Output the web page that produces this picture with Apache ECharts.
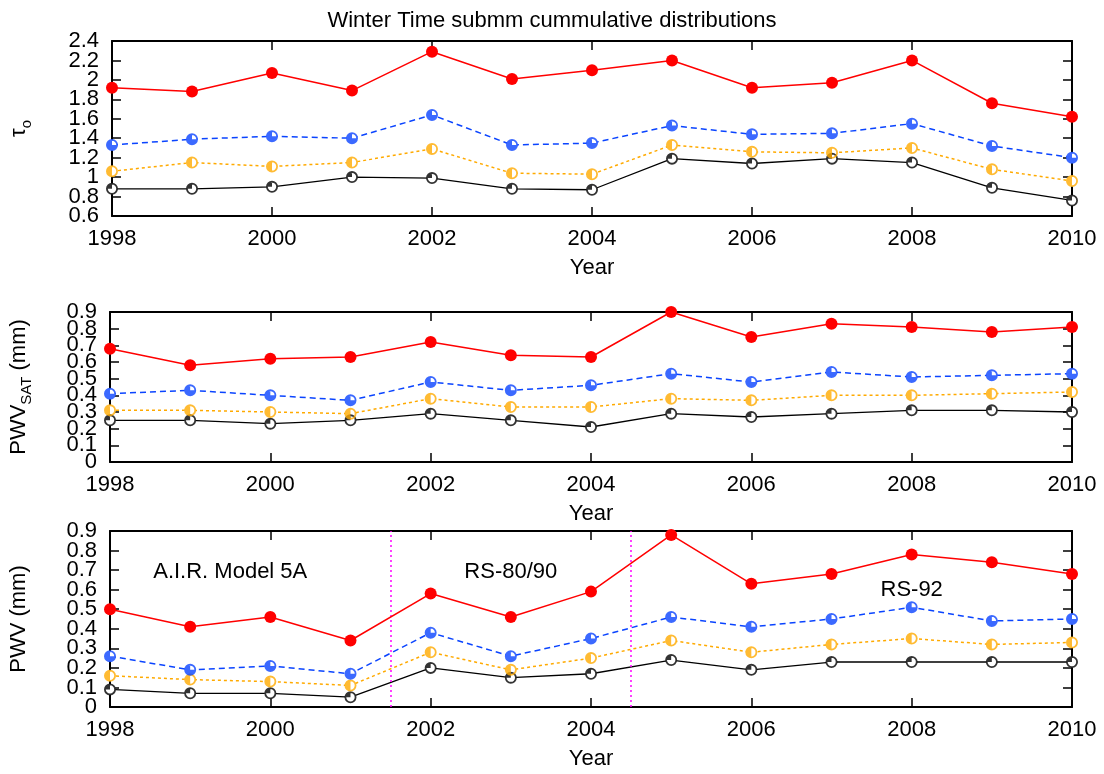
<!DOCTYPE html>
<html>
<head>
<meta charset="utf-8">
<script src="https://cdn.jsdelivr.net/npm/echarts@6/dist/echarts.min.js"></script>
<style>
html,body{margin:0;padding:0;background:#fff;}
#chart{width:1104px;height:774px;}
</style>
</head>
<body>
<div id="chart"></div>
<script>
// ---- data ----
const years = [1998,1999,2000,2001,2002,2003,2004,2005,2006,2007,2008,2009,2010];

const tauRed    = [1.92,1.88,2.07,1.89,2.29,2.01,2.10,2.20,1.92,1.97,2.20,1.76,1.62];
const tauBlue   = [1.33,1.39,1.42,1.40,1.64,1.33,1.35,1.53,1.44,1.45,1.55,1.32,1.20];
const tauOrange = [1.06,1.15,1.11,1.15,1.29,1.04,1.03,1.33,1.26,1.25,1.30,1.08,0.96];
const tauBlack  = [0.88,0.88,0.90,1.00,0.99,0.88,0.87,1.19,1.14,1.19,1.15,0.89,0.76];

const satRed    = [0.68,0.58,0.62,0.63,0.72,0.64,0.63,0.90,0.75,0.83,0.81,0.78,0.81];
const satBlue   = [0.41,0.43,0.40,0.37,0.48,0.43,0.46,0.53,0.48,0.54,0.51,0.52,0.53];
const satOrange = [0.31,0.31,0.30,0.29,0.38,0.33,0.33,0.38,0.37,0.40,0.40,0.41,0.42];
const satBlack  = [0.25,0.25,0.23,0.25,0.29,0.25,0.21,0.29,0.27,0.29,0.31,0.31,0.30];

const pwvRed    = [0.50,0.41,0.46,0.34,0.58,0.46,0.59,0.88,0.63,0.68,0.78,0.74,0.68];
const pwvBlue   = [0.26,0.19,0.21,0.17,0.38,0.26,0.35,0.46,0.41,0.45,0.51,0.44,0.45];
const pwvOrange = [0.16,0.14,0.13,0.11,0.28,0.19,0.25,0.34,0.28,0.32,0.35,0.32,0.33];
const pwvBlack  = [0.09,0.07,0.07,0.05,0.20,0.15,0.17,0.24,0.19,0.23,0.23,0.23,0.23];

// tick labels
const xTicks   = [1998, 2000, 2002, 2004, 2006, 2008, 2010];
const tauTicks = [0.6, 0.8, 1.0, 1.2, 1.4, 1.6, 1.8, 2.0, 2.2, 2.4];
const pwvTicks = [0, 0.1, 0.2, 0.3, 0.4, 0.5, 0.6, 0.7, 0.8, 0.9];

// instrument change boundaries (years) and period labels
const boundaries = [2001.5, 2004.5];
const periodLabels = ['A.I.R. Model 5A', 'RS-80/90', 'RS-92'];
const periodLabelYears = [1999.5, 2003.0, 2008.0];
const periodLabelValues = [0.69, 0.69, 0.60];

const titleText = 'Winter Time submm cummulative distributions';
const xName = 'Year';

// ---- styling ----
const FONT = 'Liberation Sans';
const FS = 22;
const RING = 'M10 0A10 10 0 1 1 10 20A10 10 0 1 1 10 0Z M10 3A7 7 0 1 0 10 17A7 7 0 1 0 10 3Z ';
const SYM = {
  black:  'path://' + RING + 'M10 10L0 10A10 10 0 0 1 10 0Z',
  orange: 'path://' + RING + 'M10 10L10 20A10 10 0 0 1 10 0Z',
  blue:   'path://' + RING + 'M10 10L20 10A10 10 0 1 1 10 0Z'
};
const STY = {
  red:    {color:'#ff0000', type:'solid', width:1.5},
  blue:   {color:'#0a44ff', type:[6,4], width:1.5},
  orange: {color:'#ffaa00', type:[3,3], width:1.5},
  black:  {color:'#000000', type:'solid', width:1.3}
};

const panels = [
  {top:41, height:175, ticks:tauTicks,
   name:'{m|τ}{s|o}', nameGap:78,
   data:{red:tauRed, blue:tauBlue, orange:tauOrange, black:tauBlack}},
  {top:312, height:150, ticks:pwvTicks,
   name:'{m|PWV}{s|SAT}{m| (mm)}', nameGap:76,
   data:{red:satRed, blue:satBlue, orange:satOrange, black:satBlack}},
  {top:531, height:176, ticks:pwvTicks,
   name:'{m|PWV (mm)}', nameGap:76,
   data:{red:pwvRed, blue:pwvBlue, orange:pwvOrange, black:pwvBlack}}
];

const grid = [], xAxis = [], yAxis = [], series = [];
const axisLineStyle = {show:true, onZero:false, lineStyle:{color:'#000', width:2}};
const tickStyle = {show:true, inside:true, length:9, lineStyle:{color:'#000', width:1.5}};
const fmtY = v => String(+(+v).toFixed(1));

panels.forEach((p, gi) => {
  const t = p.ticks;
  const ymin = t[0], ymax = t[t.length - 1];
  const yint = +(t[1] - t[0]).toFixed(3);
  grid.push({left:110, right:32, top:p.top, height:p.height, containLabel:false});
  xAxis.push({
    type:'value', gridIndex:gi, position:'bottom', min:xTicks[0], max:xTicks[xTicks.length-1],
    interval:xTicks[1]-xTicks[0],
    axisLine:axisLineStyle, axisTick:tickStyle, splitLine:{show:false},
    axisLabel:{show:true, margin:12, color:'#000', fontFamily:FONT, fontSize:FS,
               showMinLabel:true, showMaxLabel:true, formatter:v => String(v)},
    name:xName, nameLocation:'middle', nameGap:41,
    nameTextStyle:{color:'#000', fontFamily:FONT, fontSize:FS}
  });
  xAxis.push({
    type:'value', gridIndex:gi, position:'top', min:xTicks[0], max:xTicks[xTicks.length-1],
    interval:xTicks[1]-xTicks[0],
    axisLine:axisLineStyle, axisTick:tickStyle, splitLine:{show:false},
    axisLabel:{show:false}
  });
  // main left axis: even-indexed labels
  yAxis.push({
    type:'value', gridIndex:gi, position:'left', min:ymin, max:ymax, interval:yint,
    axisLine:axisLineStyle, axisTick:tickStyle, splitLine:{show:false},
    axisLabel:{show:true, margin:13, color:'#000', fontFamily:FONT, fontSize:FS,
               customValues:t.filter((v, k) => k % 2 === 0), formatter:fmtY},
    name:p.name, nameLocation:'middle', nameRotate:90, nameGap:p.nameGap,
    nameTextStyle:{color:'#000', fontFamily:FONT, fontSize:FS,
      rich:{
        m:{fontFamily:FONT, fontSize:FS, color:'#000', lineHeight:30},
        s:{fontFamily:FONT, fontSize:15, color:'#000', lineHeight:16, verticalAlign:'bottom'}
      }}
  });
  // mirror right axis
  yAxis.push({
    type:'value', gridIndex:gi, position:'right', min:ymin, max:ymax, interval:yint,
    axisLine:axisLineStyle, axisTick:tickStyle, splitLine:{show:false},
    axisLabel:{show:false}
  });
  // second left axis: odd-indexed labels
  yAxis.push({
    type:'value', gridIndex:gi, position:'left', offset:0, min:ymin, max:ymax, interval:yint,
    axisLine:{show:false}, axisTick:{show:false}, splitLine:{show:false},
    axisLabel:{show:true, margin:13, color:'#000', fontFamily:FONT, fontSize:FS,
               customValues:t.filter((v, k) => k % 2 === 1), formatter:fmtY}
  });

  ['black','orange','blue','red'].forEach((key) => {
    const st = STY[key];
    const pts = years.map((y, i) => [y, p.data[key][i]]);
    const isRed = key === 'red';
    const s = {
      type:'line', xAxisIndex:2*gi, yAxisIndex:3*gi, data:pts,
      symbol:'circle', symbolSize:isRed ? 12 : 11, showSymbol:true,
      itemStyle:{color:isRed ? st.color : '#ffffff', borderWidth:0},
      lineStyle:{color:st.color, width:st.width, type:st.type},
      z:isRed ? 5 : 2, silent:true, animation:false, clip:false
    };
    if (gi === 2 && isRed) {
      s.markLine = {
        silent:true, symbol:['none','none'], animation:false,
        lineStyle:{color:'#ff00ff', type:[2,3], width:1.5},
        label:{show:false},
        data:boundaries.map(b => ({xAxis:b}))
      };
      s.markPoint = {
        silent:true, animation:false, symbol:'circle', symbolSize:0,
        label:{show:true, position:'inside', color:'#000', fontFamily:FONT, fontSize:FS,
               formatter:prm => prm.name},
        data:periodLabels.map((txt, k) => ({name:txt, coord:[periodLabelYears[k], periodLabelValues[k]]}))
      };
    }
    series.push(s);
    if (!isRed) {
      series.push({
        type:'scatter', xAxisIndex:2*gi, yAxisIndex:3*gi, data:pts,
        symbol:SYM[key], symbolSize:12,
        itemStyle:{color:st.color},
        z:4, silent:true, animation:false
      });
    }
  });
});

const chart = echarts.init(document.getElementById('chart'), null, {renderer:'canvas'});
chart.setOption({
  animation:false,
  backgroundColor:'#ffffff',
  title:{text:titleText, left:547, textAlign:'center', top:5,
         textStyle:{color:'#000', fontFamily:FONT, fontSize:FS, fontWeight:'normal'}},
  grid, xAxis, yAxis, series
});
</script>
</body>
</html>
